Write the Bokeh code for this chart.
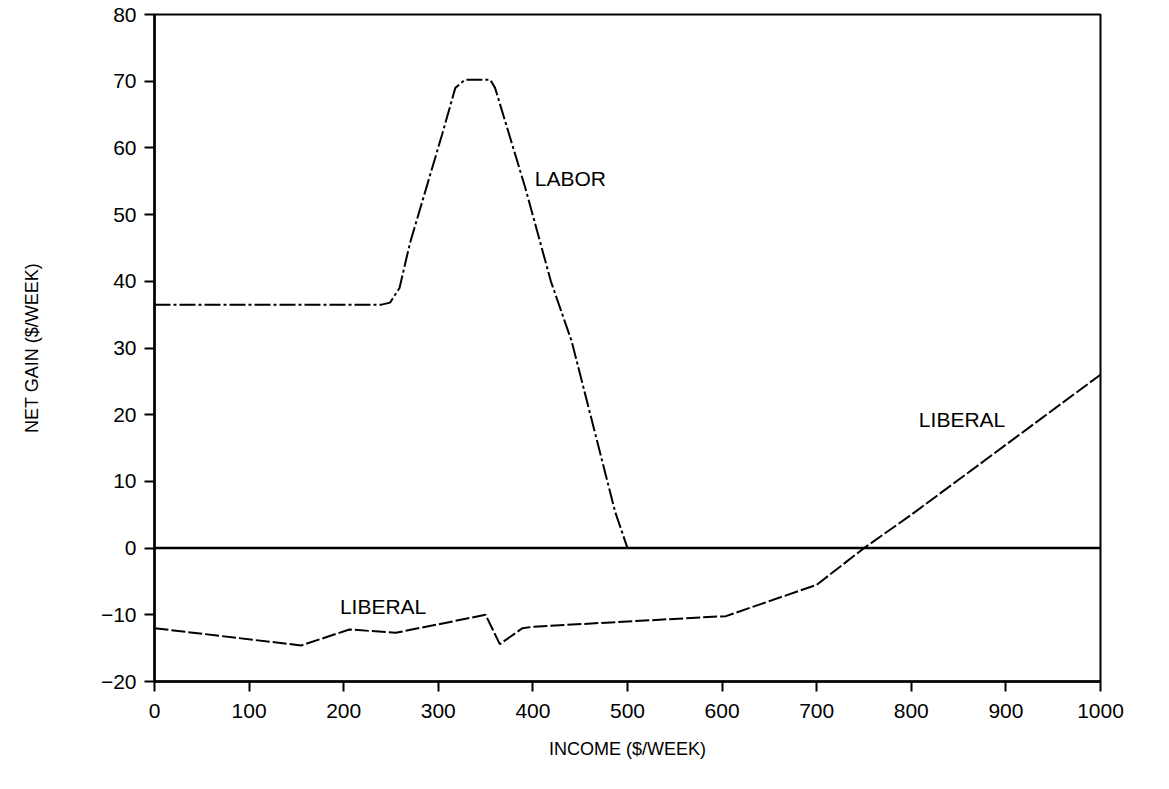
from bokeh.plotting import figure
from bokeh.models import Range1d, Span, Label, FixedTicker
from bokeh.embed import file_html
from bokeh.resources import INLINE

# Data
labor_income = [0, 240, 249, 259, 270, 304, 318, 328, 355, 360, 392, 419, 441, 487, 500]
labor_gain = [36.5, 36.5, 36.8, 39, 45.7, 62, 69, 70.2, 70.2, 69, 54, 40, 31, 5.4, 0]

liberal_income = [0, 155, 206, 255, 350, 365, 389, 400, 500, 604, 700, 750, 800, 900, 1000]
liberal_gain = [-12, -14.6, -12.2, -12.7, -10, -14.4, -12, -11.8, -11, -10.2, -5.5, 0, 5, 15.5, 26]

x_ticks = [0, 100, 200, 300, 400, 500, 600, 700, 800, 900, 1000]
y_ticks = [-20, -10, 0, 10, 20, 30, 40, 50, 60, 70, 80]

FONT = "Liberation Sans"

p = figure(frame_width=946, frame_height=667, output_backend="svg",
           toolbar_location=None, x_range=Range1d(0, 1000), y_range=Range1d(-20, 80),
           min_border_left=154, min_border_top=14, min_border_right=50, min_border_bottom=60)
p.background_fill_color = "white"
p.border_fill_color = "white"
p.outline_line_color = "black"
p.outline_line_width = 2
p.grid.visible = False

p.line(labor_income, labor_gain, line_color="black", line_width=2, line_dash="16 3 3 3")
p.line(liberal_income, liberal_gain, line_color="black", line_width=2, line_dash="14 3")

p.add_layout(Span(location=0, dimension="width", line_color="black", line_width=2.5))

for ax in (p.xaxis[0], p.yaxis[0]):
    ax.axis_line_color = "black"
    ax.axis_line_width = 2.5
    ax.major_tick_line_color = "black"
    ax.major_tick_line_width = 2
    ax.major_tick_in = 0
    ax.major_tick_out = 10
    ax.minor_tick_line_color = None
    ax.major_label_text_font = FONT
    ax.major_label_text_font_size = "21px"
    ax.major_label_text_color = "black"
    ax.axis_label_text_font = FONT
    ax.axis_label_text_font_size = "18px"
    ax.axis_label_text_font_style = "normal"
    ax.axis_label_text_color = "black"

p.xaxis.ticker = FixedTicker(ticks=x_ticks)
p.yaxis.ticker = FixedTicker(ticks=y_ticks)
p.yaxis.major_label_overrides = {t: (str(t).replace("-", "\u2212")) for t in y_ticks}
p.xaxis.axis_label = "INCOME ($/WEEK)"
p.yaxis.axis_label = "NET GAIN ($/WEEK)"
p.xaxis.major_label_standoff = 12
p.xaxis.axis_label_standoff = 18
p.yaxis.major_label_standoff = 8
p.yaxis.axis_label_standoff = 56

label_style = dict(text_font=FONT, text_font_size="21px", text_baseline="middle",
                   text_align="left", text_color="black")
p.add_layout(Label(x=402, y=55.4, text="LABOR", **label_style))
p.add_layout(Label(x=196, y=-8.7, text="LIBERAL", **label_style))
p.add_layout(Label(x=808, y=19.3, text="LIBERAL", **label_style))

open("out.html", "w").write(file_html(p, INLINE))
